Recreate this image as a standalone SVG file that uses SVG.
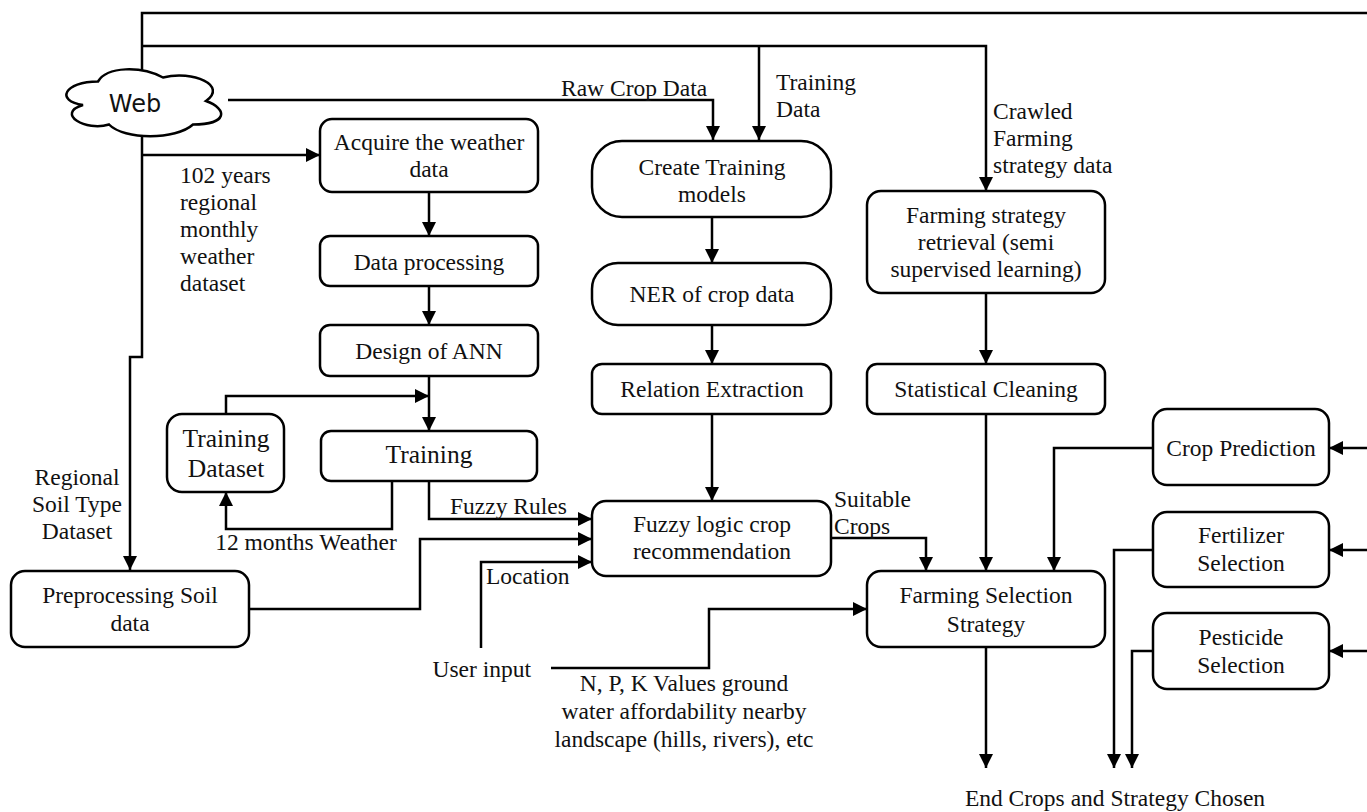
<svg xmlns="http://www.w3.org/2000/svg" width="1367" height="812" viewBox="0 0 1367 812">
<defs>
<marker id="ah" markerWidth="14" markerHeight="14" refX="14" refY="7" orient="auto" markerUnits="userSpaceOnUse"><path d="M0,0 L14,7 L0,14 z" fill="#000"/></marker>
<style>
.box{fill:#fff;stroke:#000;stroke-width:2.5}
.c{fill:none;stroke:#000;stroke-width:2.5}
.a{marker-end:url(#ah)}
text{font-family:"Liberation Serif","Times New Roman",serif;font-size:23.5px;fill:#111}
.m{text-anchor:middle}
.big{font-size:25.5px}
</style>
</defs>
<rect width="1367" height="812" fill="#fff"/>
<g id="connectors">
<path class="c a" d="M1367,13 H142 V357 H130 V570"/>
<path class="c a" d="M142,46 H986 V191"/>
<path class="c a" d="M759,46 V140"/>
<path class="c a" d="M228,100 H713 V140"/>
<path class="c a" d="M142,155 H320"/>
<path class="c a" d="M429,192 V236"/>
<path class="c a" d="M429,286 V325"/>
<path class="c a" d="M429,376 V431"/>
<path class="c a" d="M226,414 V396 H429"/>
<path class="c a" d="M392,481 V529 H226 V492"/>
<path class="c a" d="M429,481 V519 H592"/>
<path class="c a" d="M249,609 H420 V539 H592"/>
<path class="c a" d="M481,648 V562 H592"/>
<path class="c a" d="M551,668 H709 V609 H867"/>
<path class="c a" d="M712,217 V263"/>
<path class="c a" d="M712,325 V364"/>
<path class="c a" d="M712,414 V501"/>
<path class="c a" d="M831,538 H926 V571"/>
<path class="c a" d="M986,293 V364"/>
<path class="c a" d="M986,414 V571"/>
<path class="c a" d="M1153,448 H1054 V571"/>
<path class="c a" d="M1367,448 H1329"/>
<path class="c a" d="M1367,550 H1329"/>
<path class="c a" d="M1367,651 H1329"/>
<path class="c a" d="M1153,550 H1114 V768"/>
<path class="c a" d="M1153,651 H1132 V768"/>
<path class="c a" d="M986,647 V768"/>
</g>
<g id="labels">
<text x="561" y="96">Raw Crop Data</text>
<text x="776" y="90">Training</text>
<text x="776" y="117">Data</text>
<text x="993" y="119">Crawled</text>
<text x="993" y="146">Farming</text>
<text x="993" y="173">strategy data</text>
<text x="180" y="183">102 years</text>
<text x="180" y="210">regional</text>
<text x="180" y="237">monthly</text>
<text x="180" y="264">weather</text>
<text x="180" y="291">dataset</text>
<text class="m" x="77" y="485">Regional</text>
<text class="m" x="77" y="512">Soil Type</text>
<text class="m" x="77" y="539">Dataset</text>
<text class="m" x="306" y="550">12 months Weather</text>
<text x="450" y="514">Fuzzy Rules</text>
<text x="486" y="584">Location</text>
<text x="531" y="677" text-anchor="end">User input</text>
<text class="m" x="684" y="691">N, P, K Values ground</text>
<text class="m" x="684" y="719">water affordability nearby</text>
<text class="m" x="684" y="747">landscape (hills, rivers), etc</text>
<text x="834" y="507">Suitable</text>
<text x="834" y="534">Crops</text>
<text class="m" x="1115" y="806">End Crops and Strategy Chosen</text>
</g>
<g id="web">
<path class="box" d="M98,81.5 C64,81.5 55,101 83,105 C55,113.5 86,132 109,124.5 C124,140 176,140 193,124.5 C228,124.5 228,109 206,101 C228,85.5 193,70 163,77.5 C141.5,66 107,66 98,81.5 Z"/>
<text x="135" y="112" text-anchor="middle" style="font-family:'DejaVu Sans',sans-serif;font-size:24px">Web</text>
</g>
<g id="acquire"><rect class="box" x="320" y="119" width="218" height="73" rx="12"/><text class="m" x="429" y="150">Acquire the weather</text><text class="m" x="429" y="177">data</text></g>
<g id="dataproc"><rect class="box" x="320" y="236" width="218" height="50" rx="10"/><text class="m" x="429" y="270">Data processing</text></g>
<g id="design"><rect class="box" x="320" y="325" width="218" height="51" rx="10"/><text class="m" x="429" y="359">Design of ANN</text></g>
<g id="training"><rect class="box" x="321" y="431" width="216" height="50" rx="10"/><text class="m big" x="429" y="463">Training</text></g>
<g id="trainingdataset"><rect class="box" x="167" y="414" width="117" height="78" rx="15"/><text class="m big" x="226" y="447">Training</text><text class="m big" x="226" y="477">Dataset</text></g>
<g id="preproc"><rect class="box" x="11" y="571" width="238" height="76" rx="14"/><text class="m" x="130" y="603">Preprocessing Soil</text><text class="m" x="130" y="631">data</text></g>
<g id="createtraining"><rect class="box" x="592" y="141" width="239" height="76" rx="30"/><text class="m" x="712" y="175">Create Training</text><text class="m" x="712" y="202">models</text></g>
<g id="ner"><rect class="box" x="592" y="263" width="239" height="62" rx="26"/><text class="m" x="712" y="302">NER of crop data</text></g>
<g id="relation"><rect class="box" x="592" y="364" width="239" height="50" rx="10"/><text class="m" x="712" y="397">Relation Extraction</text></g>
<g id="fuzzy"><rect class="box" x="592" y="501" width="239" height="75" rx="14"/><text class="m" x="712" y="532">Fuzzy logic crop</text><text class="m" x="712" y="559">recommendation</text></g>
<g id="retrieval"><rect class="box" x="867" y="191" width="238" height="102" rx="14"/><text class="m" x="986" y="223">Farming strategy</text><text class="m" x="986" y="250">retrieval (semi</text><text class="m" x="986" y="277">supervised learning)</text></g>
<g id="statistical"><rect class="box" x="867" y="364" width="238" height="50" rx="10"/><text class="m" x="986" y="397">Statistical Cleaning</text></g>
<g id="farmingselection"><rect class="box" x="867" y="571" width="238" height="76" rx="14"/><text class="m" x="986" y="603">Farming Selection</text><text class="m" x="986" y="632">Strategy</text></g>
<g id="cropprediction"><rect class="box" x="1153" y="409" width="176" height="76" rx="14"/><text class="m" x="1241" y="456">Crop Prediction</text></g>
<g id="fertilizer"><rect class="box" x="1153" y="512" width="176" height="75" rx="14"/><text class="m" x="1241" y="543">Fertilizer</text><text class="m" x="1241" y="571">Selection</text></g>
<g id="pesticide"><rect class="box" x="1153" y="613" width="176" height="76" rx="14"/><text class="m" x="1241" y="645">Pesticide</text><text class="m" x="1241" y="673">Selection</text></g>
</svg>
